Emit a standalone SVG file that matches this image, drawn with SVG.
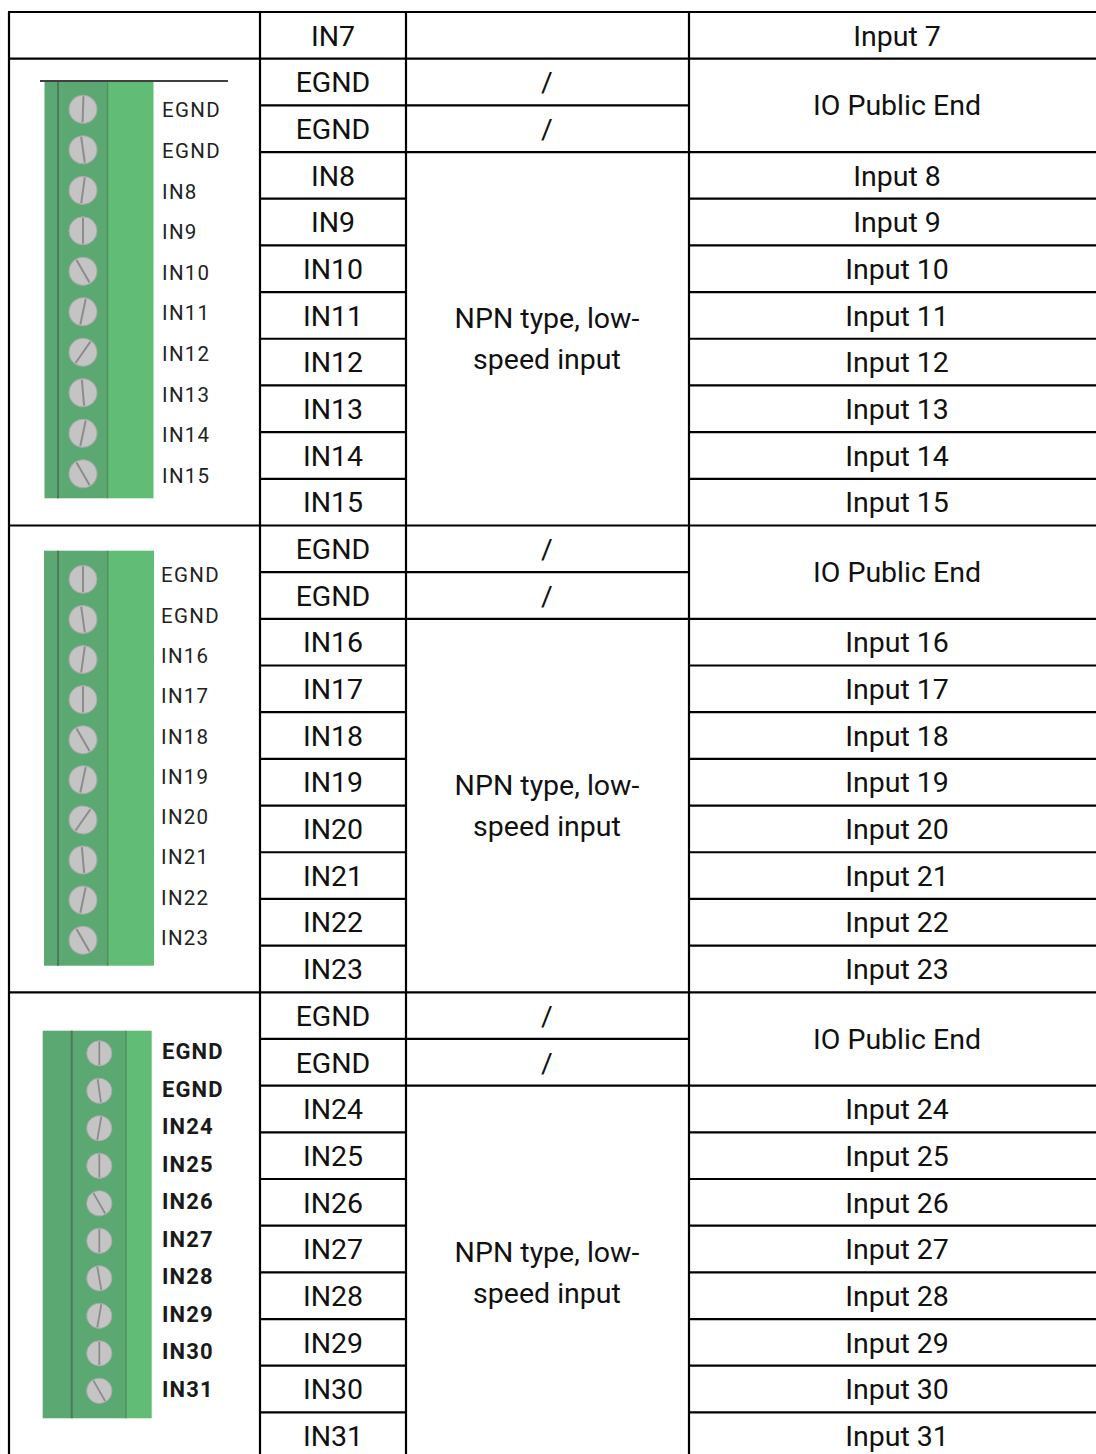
<svg xmlns="http://www.w3.org/2000/svg" xmlns:xlink="http://www.w3.org/1999/xlink" width="1096" height="1454" viewBox="0 0 1096 1454">
<style>
.t{font-family:Roboto,"Liberation Sans",sans-serif;font-size:28.5px;fill:#111;text-anchor:middle}
.lb{font-family:Roboto,"Liberation Sans",sans-serif;font-size:20.5px;fill:#222;letter-spacing:1.3px}
.lb3{font-family:Roboto,"Liberation Sans",sans-serif;font-size:22px;font-weight:bold;fill:#1a1a1a;letter-spacing:1.1px}
.g{stroke:#000;stroke-width:2.2;fill:none}
.dk{fill:#5ba872}
.lt{fill:#61bd75}
.sep{stroke:#4d7859;stroke-width:2}
.sep2{stroke:#52905f;stroke-width:1.5}
</style>
<defs>
<g id="screw">
<circle r="14" fill="#c4c4c4" stroke="#a8a8a8" stroke-width="1"/>
<line x1="0" y1="-13" x2="0" y2="13" stroke="#8c8c8c" stroke-width="2"/>
</g>
</defs>
<rect width="1096" height="1454" fill="#fff"/>

<!-- Terminal block 1 -->
<g id="terminal1">
<line x1="40" y1="81" x2="228" y2="81" stroke="#000" stroke-width="1.5"/>
<rect class="dk" x="44.5" y="82" width="63" height="416.3"/>
<rect class="lt" x="107.5" y="82" width="46" height="416.3"/>
<line class="sep" x1="58" y1="82" x2="58" y2="498.3"/>
<line class="sep2" x1="107.5" y1="82" x2="107.5" y2="498.3"/>
<use xlink:href="#screw" transform="translate(83,109.3) rotate(2)"/>
<use xlink:href="#screw" transform="translate(83,149.8) rotate(-8)"/>
<use xlink:href="#screw" transform="translate(83,190.3) rotate(8)"/>
<use xlink:href="#screw" transform="translate(83,230.8) rotate(0)"/>
<use xlink:href="#screw" transform="translate(83,271.3) rotate(-30)"/>
<use xlink:href="#screw" transform="translate(83,311.8) rotate(12)"/>
<use xlink:href="#screw" transform="translate(83,352.3) rotate(35)"/>
<use xlink:href="#screw" transform="translate(83,392.8) rotate(-5)"/>
<use xlink:href="#screw" transform="translate(83,433.3) rotate(12)"/>
<use xlink:href="#screw" transform="translate(83,473.8) rotate(-30)"/>
<text class="lb" x="162" y="117.3">EGND</text>
<text class="lb" x="162" y="157.9">EGND</text>
<text class="lb" x="162" y="198.5">IN8</text>
<text class="lb" x="162" y="239.1">IN9</text>
<text class="lb" x="162" y="279.7">IN10</text>
<text class="lb" x="162" y="320.3">IN11</text>
<text class="lb" x="162" y="360.9">IN12</text>
<text class="lb" x="162" y="401.5">IN13</text>
<text class="lb" x="162" y="442.1">IN14</text>
<text class="lb" x="162" y="482.7">IN15</text>
</g>

<!-- Terminal block 2 -->
<g id="terminal2">
<rect class="dk" x="44" y="550.7" width="63.7" height="415"/>
<rect class="lt" x="107.7" y="550.7" width="46.3" height="415"/>
<line class="sep" x1="58" y1="550.7" x2="58" y2="965.7"/>
<line class="sep2" x1="107.7" y1="550.7" x2="107.7" y2="965.7"/>
<use xlink:href="#screw" transform="translate(83,579.3) rotate(0)"/>
<use xlink:href="#screw" transform="translate(83,619.4) rotate(-8)"/>
<use xlink:href="#screw" transform="translate(83,659.5) rotate(8)"/>
<use xlink:href="#screw" transform="translate(83,699.6) rotate(0)"/>
<use xlink:href="#screw" transform="translate(83,739.7) rotate(-30)"/>
<use xlink:href="#screw" transform="translate(83,779.8) rotate(12)"/>
<use xlink:href="#screw" transform="translate(83,819.9) rotate(35)"/>
<use xlink:href="#screw" transform="translate(83,860) rotate(-5)"/>
<use xlink:href="#screw" transform="translate(83,900.1) rotate(12)"/>
<use xlink:href="#screw" transform="translate(83,940.2) rotate(-30)"/>
<text class="lb" x="161" y="582.3">EGND</text>
<text class="lb" x="161" y="622.6">EGND</text>
<text class="lb" x="161" y="662.9">IN16</text>
<text class="lb" x="161" y="703.2">IN17</text>
<text class="lb" x="161" y="743.5">IN18</text>
<text class="lb" x="161" y="783.8">IN19</text>
<text class="lb" x="161" y="824.1">IN20</text>
<text class="lb" x="161" y="864.4">IN21</text>
<text class="lb" x="161" y="904.7">IN22</text>
<text class="lb" x="161" y="945">IN23</text>
</g>

<!-- Terminal block 3 -->
<g id="terminal3">
<rect class="dk" x="42.7" y="1030.7" width="83.3" height="387.6"/>
<rect class="lt" x="126" y="1030.7" width="25.7" height="387.6"/>
<line class="sep" x1="71.7" y1="1030.7" x2="71.7" y2="1418.3"/>
<line class="sep2" x1="126" y1="1030.7" x2="126" y2="1418.3"/>
<use xlink:href="#screw" transform="translate(99.3,1053.3) scale(0.9) rotate(0)"/>
<use xlink:href="#screw" transform="translate(99.3,1090.8) scale(0.9) rotate(-8)"/>
<use xlink:href="#screw" transform="translate(99.3,1128.3) scale(0.9) rotate(10)"/>
<use xlink:href="#screw" transform="translate(99.3,1165.8) scale(0.9) rotate(0)"/>
<use xlink:href="#screw" transform="translate(99.3,1203.3) scale(0.9) rotate(-30)"/>
<use xlink:href="#screw" transform="translate(99.3,1240.8) scale(0.9) rotate(0)"/>
<use xlink:href="#screw" transform="translate(99.3,1278.3) scale(0.9) rotate(-10)"/>
<use xlink:href="#screw" transform="translate(99.3,1315.8) scale(0.9) rotate(10)"/>
<use xlink:href="#screw" transform="translate(99.3,1353.3) scale(0.9) rotate(0)"/>
<use xlink:href="#screw" transform="translate(99.3,1390.8) scale(0.9) rotate(-30)"/>
<text class="lb3" x="162" y="1059.3">EGND</text>
<text class="lb3" x="162" y="1096.8">EGND</text>
<text class="lb3" x="162" y="1134.3">IN24</text>
<text class="lb3" x="162" y="1171.8">IN25</text>
<text class="lb3" x="162" y="1209.3">IN26</text>
<text class="lb3" x="162" y="1246.8">IN27</text>
<text class="lb3" x="162" y="1284.3">IN28</text>
<text class="lb3" x="162" y="1321.8">IN29</text>
<text class="lb3" x="162" y="1359.3">IN30</text>
<text class="lb3" x="162" y="1396.8">IN31</text>
</g>

<!-- Table grid -->
<g id="grid" class="g">
<line x1="9" y1="12" x2="9" y2="1454"/>
<line x1="260" y1="12" x2="260" y2="1454"/>
<line x1="406" y1="12" x2="406" y2="1454"/>
<line x1="689" y1="12" x2="689" y2="1454"/>
<line x1="8" y1="12" x2="1096" y2="12"/>
<line x1="8" y1="58.68" x2="1096" y2="58.68"/>
<line x1="8" y1="525.48" x2="1096" y2="525.48"/>
<line x1="8" y1="992.28" x2="1096" y2="992.28"/>
<line x1="260" y1="105.36" x2="689" y2="105.36"/>
<line x1="260" y1="572.16" x2="689" y2="572.16"/>
<line x1="260" y1="1038.96" x2="689" y2="1038.96"/>
<line x1="260" y1="152.04" x2="1096" y2="152.04"/>
<line x1="260" y1="618.84" x2="1096" y2="618.84"/>
<line x1="260" y1="1085.64" x2="1096" y2="1085.64"/>
<path d="M260 198.72H406M689 198.72H1096M260 245.4H406M689 245.4H1096M260 292.08H406M689 292.08H1096M260 338.76H406M689 338.76H1096M260 385.44H406M689 385.44H1096M260 432.12H406M689 432.12H1096M260 478.8H406M689 478.8H1096"/>
<path d="M260 665.52H406M689 665.52H1096M260 712.2H406M689 712.2H1096M260 758.88H406M689 758.88H1096M260 805.56H406M689 805.56H1096M260 852.24H406M689 852.24H1096M260 898.92H406M689 898.92H1096M260 945.6H406M689 945.6H1096"/>
<path d="M260 1132.32H406M689 1132.32H1096M260 1179H406M689 1179H1096M260 1225.68H406M689 1225.68H1096M260 1272.36H406M689 1272.36H1096M260 1319.04H406M689 1319.04H1096M260 1365.72H406M689 1365.72H1096M260 1412.4H406M689 1412.4H1096"/>
</g>

<!-- Column 2: terminal names -->
<g id="col-terminal">
<text class="t" x="333" y="45.5">IN7</text>
<text class="t" x="333" y="92.2">EGND</text>
<text class="t" x="333" y="138.9">EGND</text>
<text class="t" x="333" y="185.5">IN8</text>
<text class="t" x="333" y="232.2">IN9</text>
<text class="t" x="333" y="278.9">IN10</text>
<text class="t" x="333" y="325.6">IN11</text>
<text class="t" x="333" y="372.3">IN12</text>
<text class="t" x="333" y="418.9">IN13</text>
<text class="t" x="333" y="465.6">IN14</text>
<text class="t" x="333" y="512.3">IN15</text>
<text class="t" x="333" y="559">EGND</text>
<text class="t" x="333" y="605.7">EGND</text>
<text class="t" x="333" y="652.3">IN16</text>
<text class="t" x="333" y="699">IN17</text>
<text class="t" x="333" y="745.7">IN18</text>
<text class="t" x="333" y="792.4">IN19</text>
<text class="t" x="333" y="839.1">IN20</text>
<text class="t" x="333" y="885.7">IN21</text>
<text class="t" x="333" y="932.4">IN22</text>
<text class="t" x="333" y="979.1">IN23</text>
<text class="t" x="333" y="1025.8">EGND</text>
<text class="t" x="333" y="1072.5">EGND</text>
<text class="t" x="333" y="1119.1">IN24</text>
<text class="t" x="333" y="1165.8">IN25</text>
<text class="t" x="333" y="1212.5">IN26</text>
<text class="t" x="333" y="1259.2">IN27</text>
<text class="t" x="333" y="1305.9">IN28</text>
<text class="t" x="333" y="1352.5">IN29</text>
<text class="t" x="333" y="1399.2">IN30</text>
<text class="t" x="333" y="1445.9">IN31</text>
</g>

<!-- Column 3: type -->
<g id="col-type">
<text class="t" x="547" y="92.2">/</text>
<text class="t" x="547" y="138.9">/</text>
<text class="t" x="547" y="328.2">NPN type, low-</text>
<text class="t" x="547" y="369.2">speed input</text>
<text class="t" x="547" y="559">/</text>
<text class="t" x="547" y="605.7">/</text>
<text class="t" x="547" y="795">NPN type, low-</text>
<text class="t" x="547" y="836">speed input</text>
<text class="t" x="547" y="1025.8">/</text>
<text class="t" x="547" y="1072.5">/</text>
<text class="t" x="547" y="1261.8">NPN type, low-</text>
<text class="t" x="547" y="1302.8">speed input</text>
</g>

<!-- Column 4: description -->
<g id="col-desc">
<text class="t" x="897" y="45.5">Input 7</text>
<text class="t" x="897" y="115.4">IO Public End</text>
<text class="t" x="897" y="185.5">Input 8</text>
<text class="t" x="897" y="232.2">Input 9</text>
<text class="t" x="897" y="278.9">Input 10</text>
<text class="t" x="897" y="325.6">Input 11</text>
<text class="t" x="897" y="372.3">Input 12</text>
<text class="t" x="897" y="418.9">Input 13</text>
<text class="t" x="897" y="465.6">Input 14</text>
<text class="t" x="897" y="512.3">Input 15</text>
<text class="t" x="897" y="582.2">IO Public End</text>
<text class="t" x="897" y="652.3">Input 16</text>
<text class="t" x="897" y="699">Input 17</text>
<text class="t" x="897" y="745.7">Input 18</text>
<text class="t" x="897" y="792.4">Input 19</text>
<text class="t" x="897" y="839.1">Input 20</text>
<text class="t" x="897" y="885.7">Input 21</text>
<text class="t" x="897" y="932.4">Input 22</text>
<text class="t" x="897" y="979.1">Input 23</text>
<text class="t" x="897" y="1049">IO Public End</text>
<text class="t" x="897" y="1119.1">Input 24</text>
<text class="t" x="897" y="1165.8">Input 25</text>
<text class="t" x="897" y="1212.5">Input 26</text>
<text class="t" x="897" y="1259.2">Input 27</text>
<text class="t" x="897" y="1305.9">Input 28</text>
<text class="t" x="897" y="1352.5">Input 29</text>
<text class="t" x="897" y="1399.2">Input 30</text>
<text class="t" x="897" y="1445.9">Input 31</text>
</g>
</svg>
